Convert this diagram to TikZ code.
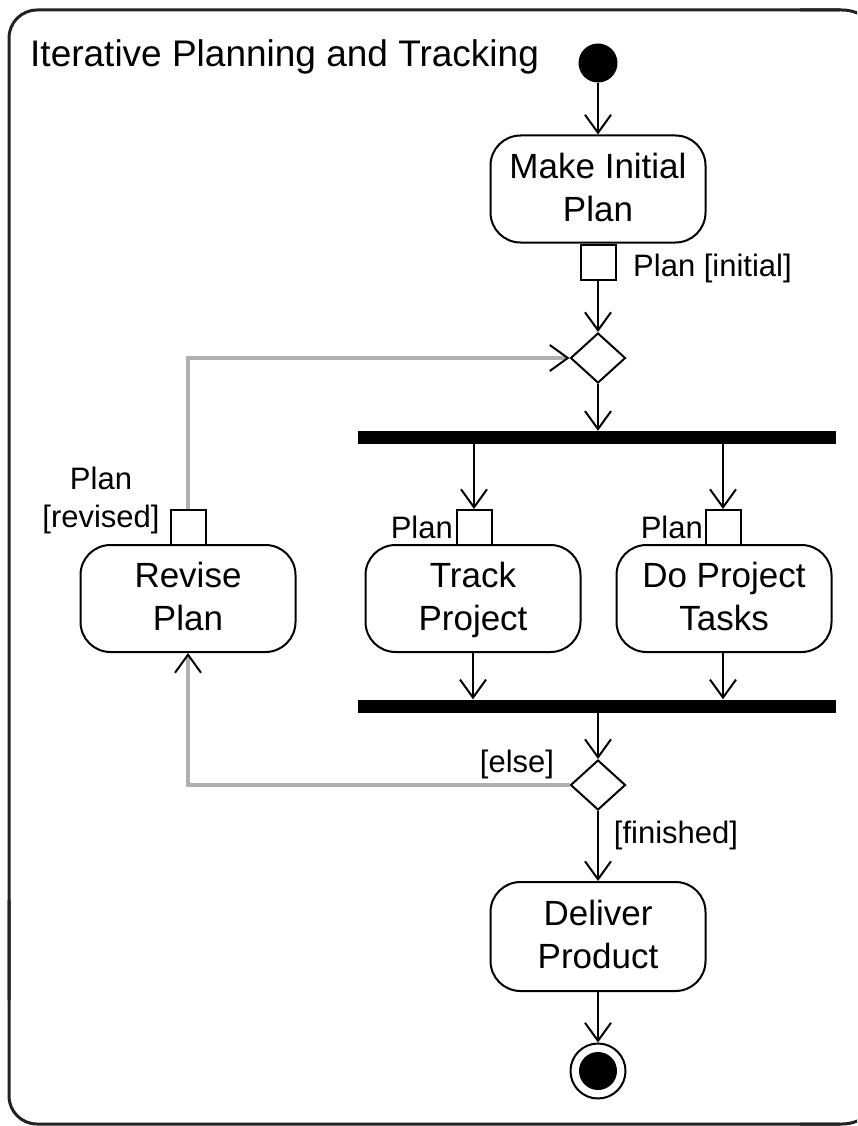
\documentclass[tikz,border=0pt]{standalone}
\usepackage{fontspec}
\setmainfont{Liberation Sans}
\usetikzlibrary{arrows.meta,shapes.geometric}

\definecolor{loopgray}{HTML}{B0B0B0}
\definecolor{framegray}{HTML}{222222}

\tikzset{
  barb/.tip={Straight Barb[length=18pt,width=26pt,line width=2pt,color=black]},
  flow/.style={draw=black, line width=2pt, -barb},
  loopback/.style={draw=loopgray, line width=4pt, -barb},
  activity/.style={draw, line width=2pt, rounded corners=30pt,
    minimum width=215pt, minimum height=107pt, inner sep=0pt, align=center,
    text height=68pt, text depth=4pt,
    font=\fontsize{35}{43}\selectfont},
  pinbox/.style={draw, line width=2pt, fill=white, minimum size=35pt, inner sep=0pt},
  syncbar/.style={fill=black, inner sep=0pt, minimum width=478pt, minimum height=13pt},
  decision/.style={diamond, draw, line width=2pt, fill=white,
    minimum width=55pt, minimum height=50pt, inner sep=0pt},
  guard/.style={font=\fontsize{31}{38}\selectfont, inner sep=0pt, align=center},
}

\begin{document}
\begin{tikzpicture}[x=1pt, y=-1pt]
  \useasboundingbox (0,0) rectangle (857,1126);

  % enclosing activity frame: its right side lies past the page edge,
  % only the bends of the right corners show
  \begin{scope}
    \clip (0,0) rectangle (857,1126);
    \draw[framegray, line width=3pt, rounded corners=28pt]
      (9,1000) -- (9,10) -- (840,10);
    \draw[framegray, line width=3pt, rounded corners=28pt]
      (9,900) -- (9,1124) -- (840,1124);
    \draw[framegray, line width=3pt, rounded corners=40pt]
      (800,10) -- (882,10) -- (882,120);
    \draw[framegray, line width=3pt, rounded corners=40pt]
      (800,1124) -- (882,1124) -- (882,1000);
  \end{scope}
  \node[anchor=base west, inner sep=0pt, font=\fontsize{37}{44}\selectfont]
    (title) at (30,67) {Iterative Planning and Tracking};

  % start node and first action
  \node[circle, fill=black, minimum size=39pt, inner sep=0pt] (init) at (598,63) {};
  \node[activity] (mip) at (598,189) {Make Initial\\Plan};
  \node[pinbox, anchor=north] (pinI) at (mip.south) {};
  \node[guard, anchor=west] (lblI) at (633,268) {Plan [initial]};

  % merge and fork
  \node[decision] (merge) at (598,358) {};
  \node[syncbar] (fork) at (597,437.5) {};

  % parallel actions with input pins
  \node[activity] (rev) at (188,598.5) {Revise\\Plan};
  \node[activity] (trk) at (473,598.5) {Track\\Project};
  \node[activity] (dpt) at (724,598.5) {Do Project\\Tasks};
  \node[pinbox] (pinR) at (188,527.5) {};
  \node[pinbox] (pinT) at (474,527.5) {};
  \node[pinbox] (pinD) at (723,527.5) {};
  \node[guard] (lblR) at (101,500) {Plan\\{}[revised]};
  \node[guard, anchor=east] (lblT) at (453,527) {Plan};
  \node[guard, anchor=east] (lblD) at (703,527) {Plan};

  % join, decision and final action
  \node[syncbar] (join) at (597,706) {};
  \node[decision] (dec) at (598,785) {};
  \node[guard] (lblE) at (517,764) {[else]};
  \node[guard] (lblF) at (676,835) {[finished]};
  \node[activity, minimum height=109pt] (del) at (598,936.5) {Deliver\\Product};

  % final node
  \node[circle, draw, line width=2pt, minimum size=55pt, inner sep=0pt] (final) at (598,1071) {};
  \node[circle, fill=black, minimum size=38pt, inner sep=0pt] (finaldot) at (final.center) {};

  % control and object flows
  \draw[flow] (init) -- (mip);
  \draw[flow] (pinI) -- (merge);
  \draw[flow] (merge.south) -- (merge.south |- fork.north);
  \draw[flow] (pinT.north |- fork.south) -- (pinT.north);
  \draw[flow] (pinD.north |- fork.south) -- (pinD.north);
  \draw[flow] (trk.south) -- (trk.south |- join.north);
  \draw[flow] (dpt.south -| pinD) -- (pinD |- join.north);
  \draw[flow] (dec.north |- join.south) -- (dec.north);
  \draw[flow] (dec) -- (del);
  \draw[flow] (del) -- (final);

  % iteration loop
  \draw[loopback] (dec.west) -| (rev.south);
  \draw[loopback] (pinR.north) |- (merge.west);
\end{tikzpicture}
\end{document}
